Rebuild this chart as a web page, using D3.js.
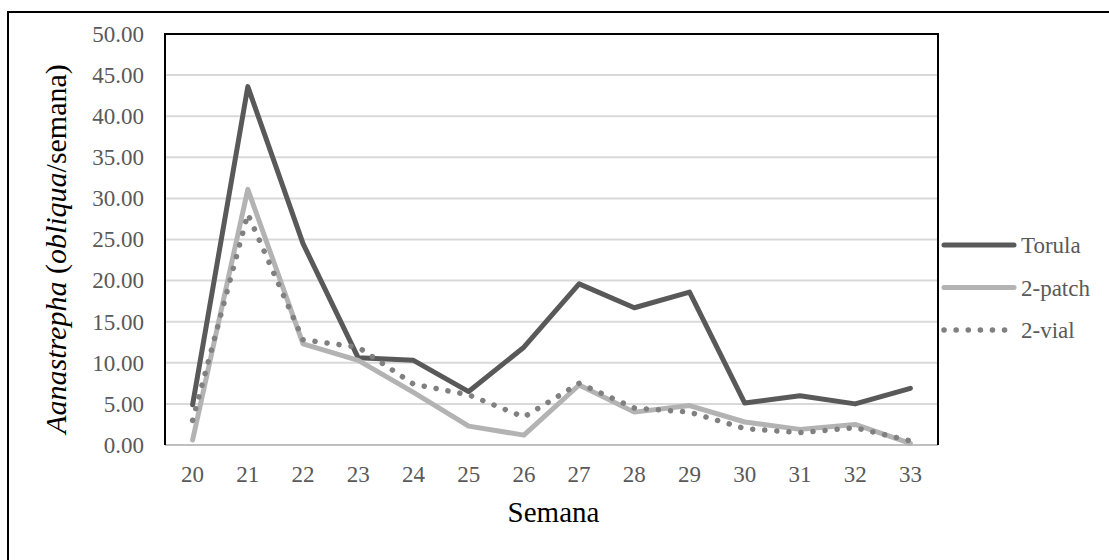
<!DOCTYPE html>
<html>
<head>
<meta charset="utf-8">
<script src="https://cdn.jsdelivr.net/npm/d3@7"></script>
<style>
  body { margin: 0; background: #fff; }
</style>
</head>
<body>
<svg id="chart" width="1109" height="560"></svg>
<script>
// semanas y datos
const semanas = [20, 21, 22, 23, 24, 25, 26, 27, 28, 29, 30, 31, 32, 33];
const torula  = [4.9, 43.6, 24.5, 10.6, 10.3, 6.5, 11.9, 19.6, 16.7, 18.6, 5.1, 6.0, 5.0, 6.9];
const patch2  = [0.6, 31.1, 12.3, 10.3, 6.4, 2.3, 1.2, 7.3, 4.0, 4.8, 2.8, 1.9, 2.5, 0.2];
const vial2   = [3.0, 28.1, 12.8, 11.9, 7.4, 6.1, 3.4, 7.5, 4.5, 4.0, 2.0, 1.5, 2.1, 0.5];
const yTicks  = [0, 5, 10, 15, 20, 25, 30, 35, 40, 45, 50];

const series = [
  { name: "Torula",  values: torula, color: "#595959", dash: null },
  { name: "2-patch", values: patch2, color: "#b3b3b3", dash: null },
  { name: "2-vial",  values: vial2,  color: "#808080", dash: "0.1 12" }
];

const FONT = "'Liberation Serif', 'Times New Roman', Times, 'DejaVu Serif', serif";

const svg = d3.select("#chart").attr("font-family", FONT);
const plot = { left: 165, top: 34, right: 938, bottom: 445 };

// marco exterior (solo arriba e izquierda)
svg.append("path")
  .attr("d", "M8,560 L8,12 L1109,12")
  .attr("fill", "none")
  .attr("stroke", "#000")
  .attr("stroke-width", 2);

const x = d3.scaleBand().domain(semanas).range([plot.left, plot.right]);
const y = d3.scaleLinear().domain([0, 50]).range([plot.bottom, plot.top]);

// lineas de cuadricula
svg.append("g")
  .selectAll("line")
  .data(yTicks.filter(d => d > 0))
  .enter()
  .append("line")
  .attr("x1", plot.left).attr("x2", plot.right)
  .attr("y1", d => y(d)).attr("y2", d => y(d))
  .attr("stroke", "#d9d9d9")
  .attr("stroke-width", 2);

// eje y
const yAxis = svg.append("g")
  .attr("transform", "translate(" + plot.left + ",0)")
  .call(d3.axisLeft(y).tickValues(yTicks).tickFormat(d3.format(".2f")).tickSize(0).tickPadding(21))
  .attr("font-family", FONT)
  .attr("font-size", 23);
yAxis.select(".domain").remove();
yAxis.selectAll("text").attr("fill", "#595959");

// eje x
const xAxis = svg.append("g")
  .attr("transform", "translate(0," + plot.bottom + ")")
  .call(d3.axisBottom(x).tickSize(0).tickPadding(21))
  .attr("font-family", FONT)
  .attr("font-size", 23);
xAxis.select(".domain").remove();
xAxis.selectAll("text").attr("fill", "#595959");

svg.append("line")
  .attr("x1", plot.left).attr("x2", plot.right)
  .attr("y1", plot.bottom).attr("y2", plot.bottom)
  .attr("stroke", "#bfbfbf")
  .attr("stroke-width", 2);

// borde del area de trazado
svg.append("path")
  .attr("d", "M" + plot.left + "," + plot.bottom + " L" + plot.left + "," + plot.top +
             " L" + plot.right + "," + plot.top + " L" + plot.right + "," + plot.bottom)
  .attr("fill", "none")
  .attr("stroke", "#000")
  .attr("stroke-width", 2);

// series
const line = d3.line()
  .x((d, i) => x(semanas[i]) + x.bandwidth() / 2)
  .y(d => y(d));

series.forEach(function (s) {
  svg.append("path")
    .datum(s.values)
    .attr("d", line)
    .attr("fill", "none")
    .attr("stroke", s.color)
    .attr("stroke-width", s.dash ? 5.5 : 5)
    .attr("stroke-linejoin", "round")
    .attr("stroke-linecap", "round")
    .attr("stroke-dasharray", s.dash);
});

// leyenda
const legend = svg.append("g");
series.forEach(function (s, i) {
  const ly = 245 + i * 42.5;
  legend.append("line")
    .attr("x1", 944).attr("x2", 1014)
    .attr("y1", ly).attr("y2", ly)
    .attr("stroke", s.color)
    .attr("stroke-width", s.dash ? 5.5 : 5)
    .attr("stroke-linecap", "round")
    .attr("stroke-dasharray", s.dash);
  legend.append("text")
    .attr("x", 1021).attr("y", ly + 8)
    .attr("fill", "#595959")
    .attr("font-size", 23)
    .text(s.name);
});

// titulos de ejes
svg.append("text")
  .attr("x", (plot.left + plot.right) / 2 + 2)
  .attr("y", 522)
  .attr("text-anchor", "middle")
  .attr("fill", "#000")
  .attr("font-size", 29)
  .text("Semana");

const yTitle = svg.append("text")
  .attr("transform", "translate(66,249) rotate(-90)")
  .attr("text-anchor", "middle")
  .attr("fill", "#000")
  .attr("font-size", 30);
yTitle.append("tspan").attr("font-style", "italic").text("Aanastrepha");
yTitle.append("tspan").text(" (");
yTitle.append("tspan").attr("font-style", "italic").text("obliqua");
yTitle.append("tspan").text("/semana)");
</script>
</body>
</html>
